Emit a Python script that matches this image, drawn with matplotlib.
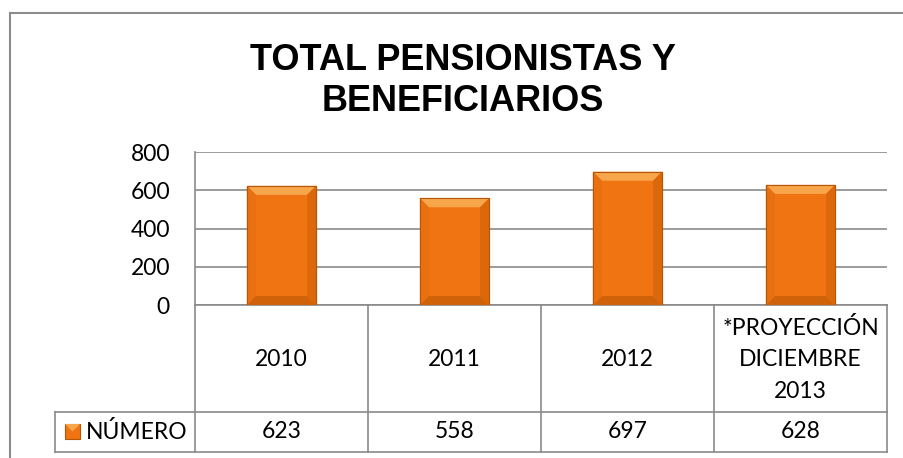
import matplotlib
matplotlib.use("Agg")
import matplotlib.pyplot as plt
from matplotlib.patches import Polygon, Rectangle
from matplotlib.lines import Line2D

title = "TOTAL PENSIONISTAS Y\nBENEFICIARIOS"
categories = ["2010", "2011", "2012", "*PROYECCIÓN\nDICIEMBRE\n2013"]
values = [623, 558, 697, 628]
series_name = "NÚMERO"
yticks = [0, 200, 400, 600, 800]

W, H = 904, 458
fig = plt.figure(figsize=(W / 100, H / 100), dpi=100)
fig.patch.set_facecolor("white")

def P(x, y):
    return (x / W, 1 - y / H)

BODY = ["Lato", "DejaVu Sans"]
FS = 16.5
GRID = "#8a8a8a"
ORANGE = "#F07512"

# plot area
L, R, T, B = 195, 887, 152, 305
ax = fig.add_axes([L / W, 1 - B / H, (R - L) / W, (B - T) / H])
ax.set_xlim(-0.5, len(categories) - 0.5)
ax.set_ylim(0, 800)
ax.set_yticks(yticks)
ax.set_yticklabels([str(v) for v in yticks], fontfamily=BODY, fontsize=FS)
ax.set_xticks([])
ax.tick_params(axis="y", length=0, pad=18)
for s in ["top", "right", "bottom"]:
    ax.spines[s].set_visible(False)
ax.spines["left"].set_color(GRID)
ax.spines["left"].set_linewidth(1.2)
ax.grid(axis="y", color=GRID, linewidth=1.2)
ax.set_axisbelow(True)

bars = ax.bar(range(len(values)), values, width=0.4, color=ORANGE,
              edgecolor="#b65506", linewidth=0.8, zorder=3)

# bevel effect
px_x = (len(categories)) / (R - L)
px_y = 800 / (B - T)
bp = 9
for b in bars:
    x0, w, h = b.get_x(), b.get_width(), b.get_height()
    bx, by = bp * px_x, bp * px_y
    x1 = x0 + w
    faces = [
        ([(x0, h), (x1, h), (x1 - bx, h - by), (x0 + bx, h - by)], "#F8A64C"),
        ([(x0, 0), (x1, 0), (x1 - bx, by), (x0 + bx, by)], "#D0620A"),
        ([(x0, 0), (x0 + bx, by), (x0 + bx, h - by), (x0, h)], "#E87010"),
        ([(x1, 0), (x1 - bx, by), (x1 - bx, h - by), (x1, h)], "#DC680C"),
    ]
    for pts, c in faces:
        ax.add_patch(Polygon(pts, closed=True, facecolor=c, edgecolor="none", zorder=3.5))
    ax.add_patch(Rectangle((x0, 0), w, h, facecolor="none", edgecolor="#b65506",
                           linewidth=0.8, zorder=4))

# title
fig.text(*P(463, 81), title, ha="center", va="center", fontsize=26,
         fontweight="bold", family=["Liberation Sans", "DejaVu Sans"],
         linespacing=1.25)

# data table
ROW1, ROW2 = 412, 452
LEG_L = 55
xt = ax.get_xaxis_transform()
def fy(ypx):
    return (B - ypx) / (B - T)

lines = []
lines.append(Line2D([-0.5, len(categories) - 0.5], [0, 0], transform=xt))
for i in range(len(categories) + 1):
    lines.append(Line2D([i - 0.5, i - 0.5], [0, fy(ROW2)], transform=xt))
for ln in lines:
    ln.set_color(GRID); ln.set_linewidth(1.2); ln.set_clip_on(False)
    ax.add_line(ln)
flines = []
for y in (ROW1, ROW2):
    flines.append(Line2D([LEG_L / W, R / W], [1 - y / H, 1 - y / H], transform=fig.transFigure))
flines.append(Line2D([LEG_L / W, LEG_L / W], [1 - ROW1 / H, 1 - ROW2 / H], transform=fig.transFigure))
for ln in flines:
    ln.set_color(GRID); ln.set_linewidth(1.2)
    fig.add_artist(ln)

for i, (c, v) in enumerate(zip(categories, values)):
    ax.text(i, fy((B + ROW1) / 2 + 1), c, transform=xt, ha="center", va="center",
            fontsize=FS, family=BODY, linespacing=1.6, clip_on=False)
    ax.text(i, fy((ROW1 + ROW2) / 2), str(v), transform=xt, ha="center", va="center",
            fontsize=FS, family=BODY, clip_on=False)

# legend key + name
kx, ky, ks = 65, 424, 15
fig.add_artist(Rectangle(P(kx, ky + ks), ks / W, ks / H, transform=fig.transFigure,
                         facecolor=ORANGE, edgecolor="#b65506", linewidth=0.8))
fig.add_artist(Polygon([P(kx, ky), P(kx + ks, ky), P(kx + ks / 2, ky + ks / 2)],
                       closed=True, transform=fig.transFigure, facecolor="#F8A64C",
                       edgecolor="none"))
fig.text(*P(86, (ROW1 + ROW2) / 2), series_name, ha="left", va="center",
         fontsize=FS, family=BODY)

# outer chart border (left and top visible)
for xs, ys in (([10, 10], [13, H]), ([10, W], [13, 13])):
    fig.add_artist(Line2D([x / W for x in xs], [1 - y / H for y in ys],
                          transform=fig.transFigure, color="#8c8c8c", linewidth=1.5))

fig.savefig("out.png", dpi=100, facecolor="white")
